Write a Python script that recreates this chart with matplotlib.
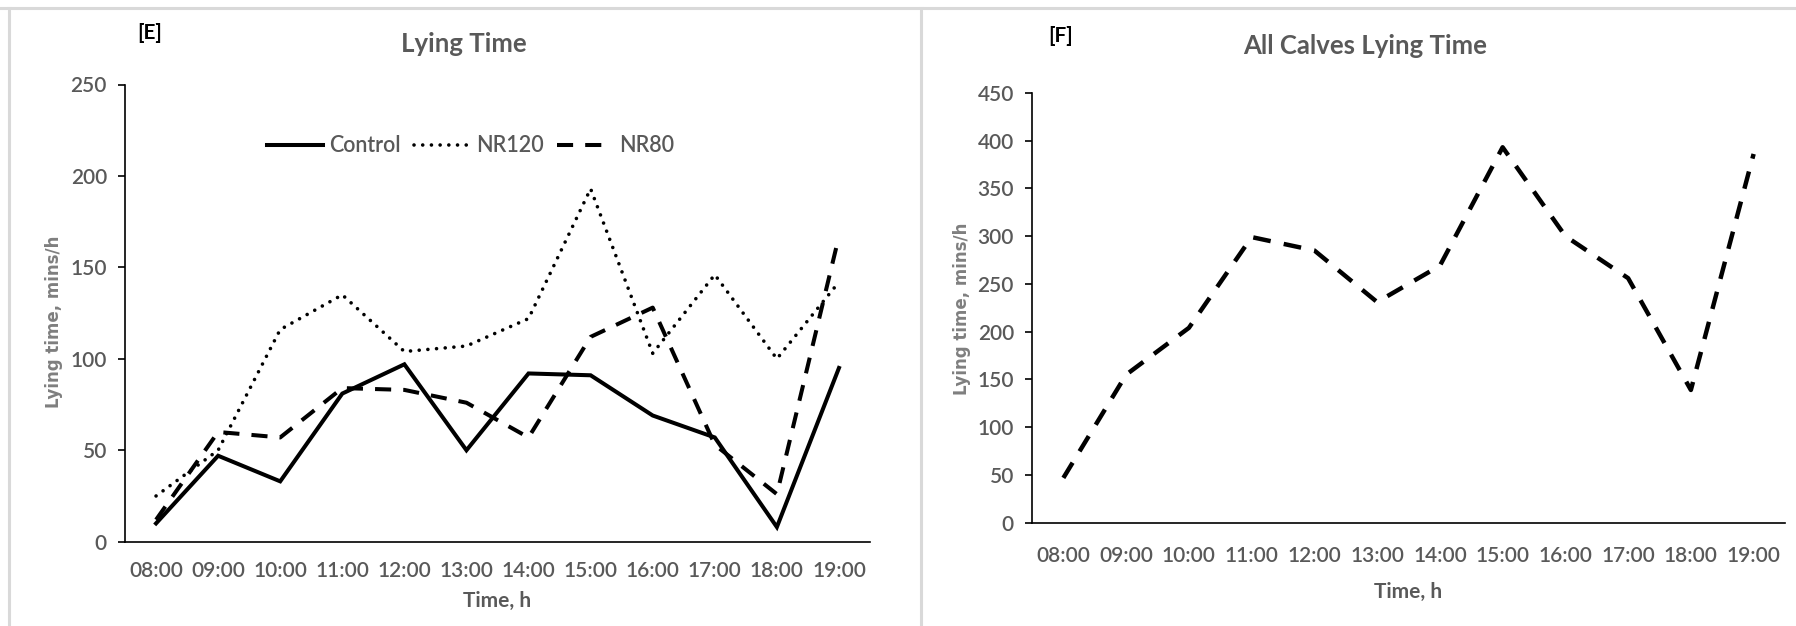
import matplotlib
matplotlib.use("Agg")
import matplotlib.pyplot as plt
from matplotlib.lines import Line2D

# data
hours = ["08:00", "09:00", "10:00", "11:00", "12:00", "13:00",
         "14:00", "15:00", "16:00", "17:00", "18:00", "19:00"]
control = [10, 47, 33, 81, 97, 50, 92, 91, 69, 57, 8, 95]
nr120 = [25, 50, 116, 135, 104, 107, 122, 193, 103, 146, 100, 142]
nr80 = [12, 60, 57, 84, 83, 76, 57, 112, 128, 53, 26, 167]
all_calves = [47, 155, 204, 299, 285, 231, 269, 393, 300, 256, 139, 386]

W, H = 1796, 626
GREY = "#595959"
TICKFONT = "Lato"
TW = "semibold"

fig = plt.figure(figsize=(W / 100, H / 100), dpi=100)


def px(x, y):
    return x / W, 1 - y / H


def make_axes(left, top, right, bottom):
    ax = fig.add_axes([left / W, 1 - bottom / H, (right - left) / W, (bottom - top) / H])
    ax.spines["top"].set_visible(False)
    ax.spines["right"].set_visible(False)
    for s in ("left", "bottom"):
        ax.spines[s].set_linewidth(1.2)
        ax.spines[s].set_color("black")
    ax.tick_params(axis="y", direction="out", length=5, width=1.2, color="black",
                   labelsize=15, labelcolor=GREY, pad=8)
    ax.tick_params(axis="x", length=0, labelsize=15, labelcolor=GREY)
    ax.set_xlim(-0.5, len(hours) - 0.5)
    return ax


def style_ticks(ax):
    for lab in ax.get_xticklabels() + ax.get_yticklabels():
        lab.set_fontfamily(TICKFONT)
        lab.set_fontweight(TW)


x = list(range(len(hours)))

# ---- panel E
ax1 = make_axes(125, 84.5, 870, 541.7)
ax1.plot(x, control, color="black", lw=2.9, solid_joinstyle="miter", label="Control")
ax1.plot(x, nr120, color="black", lw=2.6, linestyle=(0, (0.01, 2.4)),
         dash_capstyle="round", label="NR120")
ax1.plot(x, nr80, color="black", lw=2.9, linestyle=(0, (4, 3)), label="NR80")
ax1.set_ylim(0, 250)
ax1.set_yticks(range(0, 251, 50))
ax1.set_xticks(x)
ax1.set_xticklabels(hours)
ax1.tick_params(axis="x", pad=14)
style_ticks(ax1)
leg = ax1.legend(loc="center", bbox_to_anchor=(0.464, 0.866), ncol=3, frameon=False,
                 handlelength=2.6, handletextpad=0.3, columnspacing=0.6,
                 prop={"family": TICKFONT, "size": 15.5, "weight": TW})
for t in leg.get_texts():
    t.set_color(GREY)

fig.text(*px(137, 33), "[E]", fontsize=15, fontweight="bold", fontfamily=TICKFONT,
         ha="left", va="center", color="black")
fig.text(*px(464, 44), "Lying Time", fontsize=18.5, fontweight="bold", fontfamily=TICKFONT,
         ha="center", va="center", color=GREY)
fig.text(*px(497, 601), "Time, h", fontsize=15, fontweight="bold", fontfamily=TICKFONT,
         ha="center", va="center", color=GREY)
fig.text(*px(54, 322), "Lying time, mins/h", fontsize=12, fontweight="bold",
         fontfamily="DejaVu Sans", rotation=90, ha="center", va="center", color="#7f7f7f")

# ---- panel F
ax2 = make_axes(1032, 92.8, 1785, 522.8)
ax2.plot(x, all_calves, color="black", lw=3.2, linestyle=(0, (4, 3)))
ax2.set_ylim(0, 450)
ax2.set_yticks(range(0, 451, 50))
ax2.set_xticks(x)
ax2.set_xticklabels(hours)
ax2.tick_params(axis="x", pad=17)
style_ticks(ax2)

fig.text(*px(1048, 36), "[F]", fontsize=15, fontweight="bold", fontfamily=TICKFONT,
         ha="left", va="center", color="black")
fig.text(*px(1365, 46), "All Calves Lying Time", fontsize=18.5, fontweight="bold",
         fontfamily=TICKFONT, ha="center", va="center", color=GREY)
fig.text(*px(1408, 592), "Time, h", fontsize=15, fontweight="bold", fontfamily=TICKFONT,
         ha="center", va="center", color=GREY)
fig.text(*px(962, 309), "Lying time, mins/h", fontsize=12, fontweight="bold",
         fontfamily="DejaVu Sans", rotation=90, ha="center", va="center", color="#7f7f7f")

# panel frames
frame = dict(color="#d9d9d9", lw=2.2, transform=fig.transFigure)
fig.add_artist(Line2D([0, 1], [1 - 8 / H, 1 - 8 / H], **frame))
fig.add_artist(Line2D([9 / W, 9 / W], [0, 1 - 8 / H], **frame))
fig.add_artist(Line2D([921 / W, 921 / W], [0, 1 - 8 / H], **frame))

fig.savefig("out.png", dpi=100)
